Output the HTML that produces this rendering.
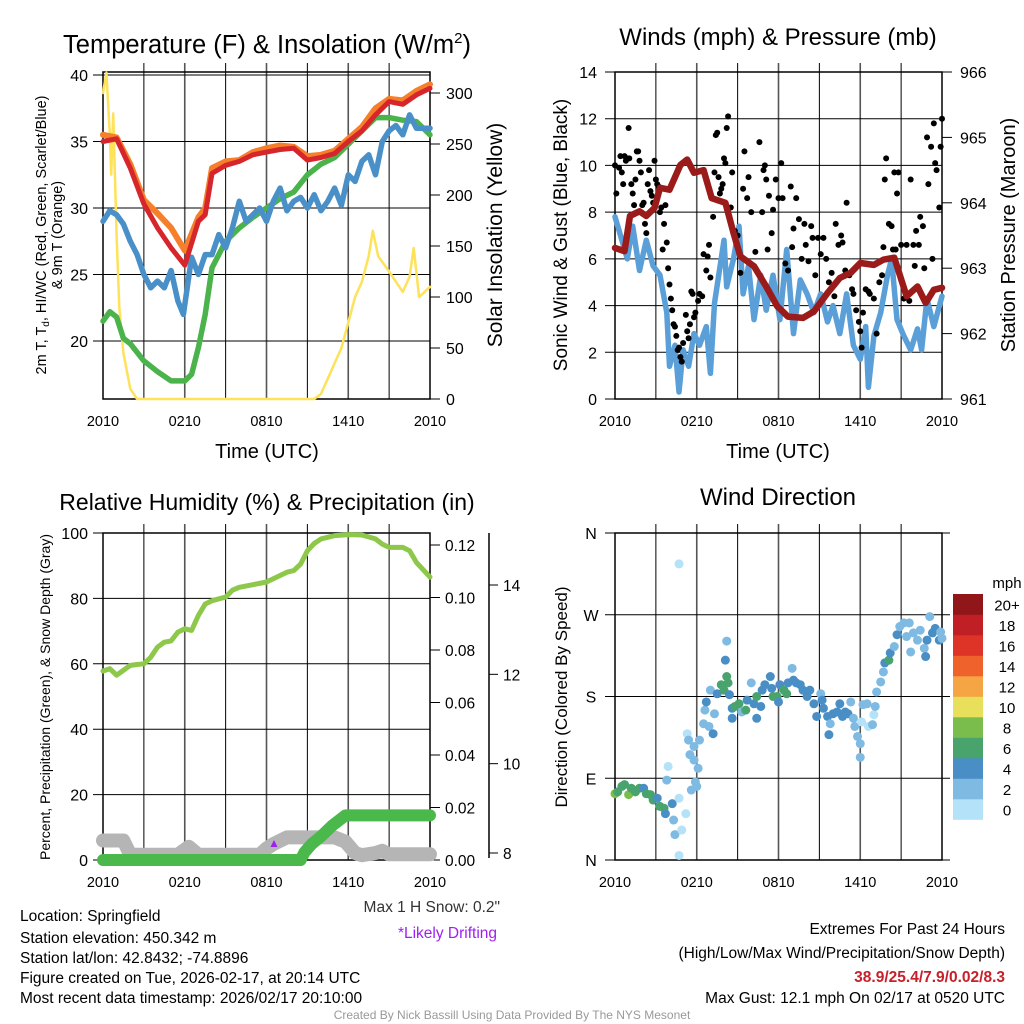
<!DOCTYPE html>
<html><head><meta charset="utf-8"><style>
html,body{margin:0;padding:0;background:#fff;}
svg{display:block;font-family:"Liberation Sans",sans-serif;}
</style></head><body>
<svg id="c" width="1024" height="1024" viewBox="0 0 1024 1024" xmlns="http://www.w3.org/2000/svg">
<rect width="1024" height="1024" fill="#fff"/>
<g id="g1"></g>
<g id="g2"></g>
<g id="g3"></g>
<g id="g4"></g>
<text x="267" y="53" font-size="25.5" text-anchor="middle">Temperature (F) &amp; Insolation (W/m<tspan font-size="15" dy="-10">2</tspan><tspan dy="10">)</tspan></text>
<text x="778" y="45" font-size="24" text-anchor="middle">Winds (mph) &amp; Pressure (mb)</text>
<text x="267" y="510" font-size="23" text-anchor="middle">Relative Humidity (%) &amp; Precipitation (in)</text>
<text x="778" y="505" font-size="24" text-anchor="middle">Wind Direction</text>
<text x="267" y="458" font-size="20" text-anchor="middle">Time (UTC)</text>
<text x="778" y="458" font-size="20" text-anchor="middle">Time (UTC)</text>
<text transform="translate(46,235) rotate(-90)" font-size="14.5" text-anchor="middle">2m T, T<tspan font-size="10" dy="3">d</tspan><tspan dy="-3">, HI/WC (Red, Green, Scarlet/Blue)</tspan></text>
<text transform="translate(62,235) rotate(-90)" font-size="14.5" text-anchor="middle">&amp; 9m T (Orange)</text>
<text transform="translate(502,235) rotate(-90)" font-size="21" text-anchor="middle">Solar Insolation (Yellow)</text>
<text transform="translate(567,235) rotate(-90)" font-size="19" text-anchor="middle">Sonic Wind &amp; Gust (Blue, Black)</text>
<text transform="translate(1015,235) rotate(-90)" font-size="20" text-anchor="middle">Station Pressure (Maroon)</text>
<text transform="translate(50,697) rotate(-90)" font-size="14" text-anchor="middle">Percent, Precipitation (Green), &amp; Snow Depth (Gray)</text>
<text transform="translate(567,697) rotate(-90)" font-size="17" text-anchor="middle">Direction (Colored By Speed)</text>
<text x="500" y="912" font-size="15.5" fill="#333" text-anchor="end">Max 1 H Snow: 0.2"</text>
<text x="497" y="938" font-size="15.5" fill="#a020f0" text-anchor="end">*Likely Drifting</text>
<g font-size="15.5">
<text x="20" y="921">Location: Springfield</text>
<text x="20" y="943">Station elevation: 450.342 m</text>
<text x="20" y="963">Station lat/lon: 42.8432; -74.8896</text>
<text x="20" y="983">Figure created on Tue, 2026-02-17, at 20:14 UTC</text>
<text x="20" y="1003">Most recent data timestamp: 2026/02/17 20:10:00</text>
</g>
<g font-size="15.5" text-anchor="end">
<text x="1005" y="934">Extremes For Past 24 Hours</text>
<text x="1005" y="958">(High/Low/Max Wind/Precipitation/Snow Depth)</text>
<text x="1005" y="982" fill="#c8202a" font-weight="bold">38.9/25.4/7.9/0.02/8.3</text>
<text x="1005" y="1003">Max Gust: 12.1 mph On 02/17 at 0520 UTC</text>
</g>
<text x="512" y="1019" font-size="12" fill="#999" text-anchor="middle">Created By Nick Bassill Using Data Provided By The NYS Mesonet</text>
</svg>
<script>
// ---------- data ----------
const xTickLabels=["2010","0210","0810","1410","2010"];
const tHours=[0,1,2,3,4,5,6,7,7.5,8,9,10,11,12,13,14,15,16,17,18,19,20,21,22,23,24];
const tempRed=[35,35.2,33,30.3,28.5,27,25.7,29,29.5,32.6,33.2,33.5,34,34.2,34.4,34.5,33.6,33.8,34.1,35,35.8,37,38,37.8,38.5,39];
const temp9m=[35.5,35.3,33.3,30.6,29.6,28.5,26.8,29.3,30,33,33.5,33.6,34.2,34.5,34.7,34.6,33.9,34,34.3,35.2,36.1,37.5,38.2,38.1,38.8,39.3];
const dHours=[0,0.5,1,1.5,2,3,4,5,6,6.5,7,7.5,8,9,10,11,12,13,14,15,16,17,18,19,20,21,22,23,24];
const dewpoint=[21.5,22.2,21.8,20.2,19.8,18.5,17.7,17,17,17.5,19.5,22,25.5,27.5,28.5,29.3,30,30.7,31.2,32.5,33.3,33.8,34.8,35.8,36.8,36.8,36.6,36.5,35.5];
const hiHours=[0,0.5,1,1.5,2,2.5,3,3.5,4,4.5,5,5.5,5.9,6.5,7,7.5,8,8.5,9,9.5,10,10.5,11,11.5,12,12.5,13,13.5,14,14.5,15,15.5,16,16.5,17,17.5,18,18.5,19,19.5,20,20.5,21,21.5,22,22.5,23,23.5,24];
const heatIndex=[29,29.8,29.5,28.8,27.5,26.5,25,24,24.5,24,25.3,23,22,26.3,25,26.5,26.5,28,27,28.5,30.5,29,29.5,30,29,30.5,31.5,29.8,30.5,30.8,30,31,29.8,30.5,31.5,30.2,32.5,32,33.5,34,32.5,35,35.8,36.2,35.5,37,36,36,36];
const solHours=[0,0.25,0.5,0.6,0.75,1,1.2,1.5,2,2.5,15.5,16,16.5,17,17.5,18,18.5,19,19.5,19.8,20.2,21,21.5,22,22.5,22.8,23.2,24];
const solar=[300,320,260,220,280,160,90,45,10,0,0,5,20,35,50,75,100,115,140,165,140,125,115,105,120,148,100,110];
const tempTicks=[20,25,30,35,40];
const solarTicks=[0,50,100,150,200,250,300];

const presHours=[0,0.7,1.1,1.8,2.3,2.9,3.3,4.0,4.8,5.3,5.8,6.5,7.1,8.1,8.7,9.2,10.2,11.1,11.9,12.7,13.8,14.6,15.6,16.5,17.3,18,19,19.7,20.5,21.4,22.2,22.8,23.4,24];
const pressure=[963.31,963.26,963.8,963.87,963.8,963.92,964.23,964.2,964.58,964.66,964.46,964.5,964.07,964.0,963.54,963.18,963.03,962.72,962.42,962.26,962.24,962.34,962.62,962.85,962.93,963.08,963.05,963.13,963.16,962.57,962.72,962.47,962.67,962.7];
const windHours=[0,0.4,0.9,1.3,1.8,2.3,2.8,3.3,3.8,4.0,4.4,4.7,5.0,5.4,5.8,6.2,6.7,7.0,7.3,8.0,8.2,8.7,9.1,9.4,9.8,10.2,10.7,11.1,11.6,12.1,12.6,13.1,13.6,14.1,14.6,15.1,15.6,16.0,16.5,17.0,17.5,18.0,18.4,18.6,19.0,19.5,20.0,20.3,20.7,21.2,21.7,22.2,22.5,22.9,23.4,24];
const windSpeed=[7.8,7.0,6.0,7.4,5.5,6.8,5.7,5.3,3.7,1.4,2.3,0.3,2.1,1.4,2.8,2.3,3.1,1.1,4.1,6.8,4.8,6.0,7.4,4.5,5.7,3.4,5.3,3.8,5.3,3.4,6.4,2.8,5.1,4.5,3.7,4.5,3.3,4.0,2.8,4.5,2.3,1.7,3.1,0.5,2.7,3.7,5.3,6.0,3.4,2.7,2.1,3.0,2.1,4.3,3.1,4.4];
const gustHours=[0,0.1,0.3,0.4,0.5,0.6,0.7,0.8,0.9,1.0,1.05,1.2,1.3,1.4,1.5,1.6,1.7,1.8,1.9,2.0,2.1,2.2,2.3,2.4,2.5,2.6,2.7,2.8,2.9,3.0,3.1,3.2,3.3,3.4,3.5,3.6,3.7,3.8,3.9,4.0,4.1,4.2,4.3,4.4,4.5,4.6,4.7,4.8,4.9,5.0,5.2,5.3,5.4,5.5,5.6,5.7,5.8,5.9,6.1,6.2,6.4,6.5,6.7,6.8,6.9,7.0,7.2,7.3,7.4,7.5,7.6,7.7,7.8,7.9,8.0,8.1,8.2,8.3,8.4,8.5,8.6,8.8,9.0,9.1,9.2,9.4,9.5,9.7,9.8,10.0,10.3,10.6,10.8,10.9,11.0,11.1,11.2,11.3,11.5,11.6,11.8,12.0,12.2,12.3,12.5,12.7,12.9,13.0,13.1,13.3,13.5,13.7,13.9,14.0,14.2,14.4,14.5,14.7,14.9,15.1,15.3,15.5,15.7,15.9,16.1,16.2,16.4,16.6,16.7,16.9,17.0,17.2,17.4,17.5,17.7,17.9,18.0,18.1,18.2,18.4,18.6,18.7,19.0,19.2,19.4,19.6,19.7,19.8,19.9,20.1,20.3,20.4,20.5,20.6,20.7,20.8,21.0,21.2,21.4,21.6,21.7,21.9,22.0,22.1,22.3,22.4,22.6,22.7,22.9,23.0,23.2,23.3,23.4,23.5,23.6,23.8,23.9,24.0];
const gustSpeed=[10.0,8.8,9.9,10.4,9.7,9.2,10.4,10.2,10.3,11.6,10.3,9.2,8.8,8.3,9.4,10.6,10.6,10.2,9.7,8.3,8.4,7.5,7.1,9.2,9.8,8.9,8.7,8.4,10.2,9.4,9.2,9.1,8.0,8.2,6.4,7.5,8.3,6.7,5.6,4.9,4.3,3.8,3.2,3.1,2.7,2.1,2.2,1.8,1.6,2.4,3.6,2.9,2.6,3.2,4.6,4.5,3.5,3.7,4.2,4.5,4.4,6.2,5.5,6.1,6.6,5.2,7.8,9.7,11.3,11.4,9.5,8.8,9.0,9.2,10.3,10.1,11.6,12.1,7.8,8.2,9.7,7.2,7.0,6.3,5.4,9.0,10.6,8.6,9.5,8.0,6.3,11.0,8.0,9.8,10.0,9.4,6.4,8.7,7.1,8.1,9.4,8.6,10.1,8.6,5.8,5.5,9.1,6.5,7.3,8.6,7.7,6.0,7.5,6.6,5.9,7.4,6.9,5.3,6.9,6.2,6.9,6.0,5.0,5.4,4.4,7.5,6.6,7.0,6.7,5.5,8.4,5.3,4.7,4.5,3.8,3.3,2.9,2.2,3.7,4.7,4.6,4.5,4.3,2.8,5.0,5.3,6.5,9.4,10.3,7.5,7.4,6.4,9.7,6.4,8.8,9.7,6.6,4.3,6.6,4.2,9.4,6.6,5.7,7.2,6.6,7.8,7.4,5.6,11.2,9.2,10.8,6.0,11.8,10.1,9.8,8.2,10.8,12.0];
const windTicks=[0,2,4,6,8,10,12,14];
const presTicks=[961,962,963,964,965,966];

const rhHours=[0,0.5,1,1.5,2,2.5,3,3.5,4,4.5,5,5.5,6,6.5,7,7.5,8,9,9.5,10,11,12,13,13.5,14,14.5,15,15.5,16,17,18,19,20,20.5,21,22,22.5,23,24];
const humidity=[57.8,58.5,56.5,58,59.5,59.8,60,62,65.1,66.6,67,69.7,70.7,70.2,74.8,78.3,79.3,80.4,82.5,83.4,84.2,85,87,88,88.5,90.5,94.6,96.8,98.2,99.2,99.5,99.4,98.2,96.6,95.6,95.6,94.6,91,86.5];
const prHours=[0,14.5,14.8,15.3,16,16.8,17.8,24];
const precip=[0,0,0.003,0.006,0.009,0.013,0.017,0.017];
const snHours=[0,1.5,2,5.5,6.3,7,11.5,12,12.5,13.5,17,17.8,18.5,19,20,20.5,21,24];
const snowDepth=[8.28,8.28,7.96,7.96,8.14,7.96,7.96,8.1,8.2,8.35,8.35,8.25,8.0,7.95,8.0,8.05,7.97,7.97];
const driftHours=[12.55];
const driftDepth=[8.18];
const rhTicks=[0,20,40,60,80,100];
const prTicks=[0,0.02,0.04,0.06,0.08,0.10,0.12];
const prTickLabels=["0.00","0.02","0.04","0.06","0.08","0.10","0.12"];
const snTicks=[8,10,12,14];

const dirHours=[0,0.2,0.5,0.7,1.0,1.2,1.5,1.8,2.1,2.3,2.6,2.8,3.1,3.3,3.6,3.7,3.9,3.8,4.2,4.3,4.4,4.7,4.9,4.7,5.2,5.3,5.4,5.5,5.8,5.8,5.9,5.6,6.0,6.1,6.2,6.5,6.6,6.7,7.0,6.9,7.2,7.3,7.5,7.8,8.0,8.1,8.2,8.2,8.3,8.4,8.6,8.6,8.8,9.1,9.3,9.6,9.7,10.0,10.2,10.4,10.7,10.4,10.8,11.0,11.4,11.5,11.6,11.9,12.0,12.1,12.4,12.6,12.7,13.0,13.1,13.3,13.6,13.8,14.1,14.3,14.6,14.8,15.1,15.2,15.3,15.6,15.7,15.8,16.0,16.3,16.5,16.7,16.9,17.1,17.3,17.5,17.6,17.8,18.0,18.0,18.1,18.2,18.5,18.6,18.9,19.0,19.1,19.2,19.5,19.7,19.8,20.1,20.2,20.5,20.7,20.9,21.2,21.4,21.7,21.9,22.2,22.4,22.7,22.8,22.9,23.1,23.3,23.5,23.8,24.0,23.9,21.6,4.7];
const dirDeg=[73,75,81,83,72,79,75,79,79,73,72,66,68,59,57,51,103,88,62,44,28,5,33,68,51,139,132,116,110,125,86,77,81,101,132,150,165,174,187,147,139,161,183,193,187,220,241,202,195,182,167,156,169,172,163,165,176,195,172,156,169,180,187,193,202,189,180,180,174,193,187,183,195,211,198,195,193,187,180,187,172,158,183,176,167,158,138,150,161,163,172,158,163,161,174,156,147,136,128,113,152,171,172,147,149,160,169,185,196,207,217,220,228,235,248,257,261,246,229,250,242,253,233,224,242,268,250,255,242,244,251,261,326];
const dirSpeed=[8,6,6,6,8,6,6,6,4,6,6,6,4,6,6,4,0,2,4,2,2,0,0,0,0,0,2,2,2,2,2,2,2,2,2,2,2,4,2,2,4,2,4,6,6,4,2,6,6,4,4,4,6,6,2,6,4,2,4,4,4,6,4,4,4,4,6,6,4,4,6,6,4,2,4,4,4,4,4,4,4,4,2,4,4,4,4,2,4,4,4,4,4,4,2,2,2,2,2,2,0,2,2,0,2,0,2,2,2,2,4,6,4,2,4,2,2,2,2,2,2,2,2,4,4,2,4,4,4,2,2,2,0];
const dirTicks=[0,90,180,270,360];
const dirTickLabels=["N","E","S","W","N"];
const speedBins=[0,2,4,6,8,10,12,14,16,18,20];
const speedBinLabels=["0","2","4","6","8","10","12","14","16","18","20+"];
const speedColors=["#b4e2f8","#7fbae3","#4a8ec6","#49a36c","#7bbd4c","#e8df5a","#f6a544","#f0622c","#dd3427","#c01f26","#911619"];

// ---------- helpers ----------
const NS="http://www.w3.org/2000/svg";
function mk(parent,tag,attrs){const e=document.createElementNS(NS,tag);for(const k in attrs)e.setAttribute(k,attrs[k]);parent.appendChild(e);return e;}
function xScale(x0){return h=>x0+h*327/24;}
function lin(d0,d1,p0,p1){return v=>p0+(v-d0)*(p1-p0)/(d1-d0);}
function linePath(xs,ys,fx,fy){return xs.map((h,i)=>(i?"L":"M")+fx(h).toFixed(1)+","+fy(ys[i]).toFixed(1)).join("");}

function frame(g,x0,y0,x1,y1){
  for(let k=1;k<8;k++){const x=x0+k*(x1-x0)/8;
    const l=mk(g,"line",{x1:x,y1:y0-9,x2:x,y2:y1,stroke:k%2?"#000":"#555","stroke-width":k%2?1:1.6});
    
    }
  const r=mk(g,"rect",{x:x0,y:y0,width:x1-x0,height:y1-y0,fill:"none",stroke:"#000","stroke-width":1.5});
  
  
  xTickLabels.forEach((t,i)=>{const tx=mk(g,"text",{x:x0+i*(x1-x0)/4,y:y1+27,"font-size":14.5,"text-anchor":"middle"});tx.textContent=t;
    
    });
}
function hgrid(g,ticks,fy,x0,x1,labels,side,lx,fs){
  ticks.forEach((v,i)=>{const y=fy(v);
    if(side==="L"){const l=mk(g,"line",{x1:x0-10,y1:y,x2:x1,y2:y,stroke:"#000","stroke-width":1});
      
      }
    else{const l=mk(g,"line",{x1:x1,y1:y,x2:x1+10,y2:y,stroke:"#000","stroke-width":1});
      
      }
    const t=mk(g,"text",{x:lx,y:y+6,"font-size":fs||16,"text-anchor":side==="L"?"end":"start"});t.textContent=labels?labels[i]:String(v);
    
    });
}
function path(g,d,color,w,name,cap){const p=mk(g,"path",{d:d,fill:"none",stroke:color,"stroke-width":w,"stroke-linejoin":"round","stroke-linecap":cap||"round"});
  
  return p;}

// ---------- panel 1 ----------
(function(){const g=document.getElementById("g1");
  const fx=xScale(103), fy=lin(20,40,341,75), fs=lin(0,300,399,93);
  frame(g,103,72,430,399);
  mk(g,"line",{x1:103,y1:75,x2:430,y2:75,stroke:"#000","stroke-width":1});
  hgrid(g,tempTicks,fy,103,430,null,"L",88);
  hgrid(g,solarTicks,fs,103,430,null,"R",446);
  path(g,linePath(solHours,solar,fx,fs),"#fde25a",2.5,"solar-line");
  path(g,linePath(dHours,dewpoint,fx,fy),"#4bb34b",5.5,"dewpoint-line");
  path(g,linePath(hiHours,heatIndex,fx,fy),"#4a90c8",5.5,"heat-index-line");
  path(g,linePath(tHours,temp9m,fx,fy),"#f57f2a",6,"temp-9m-line");
  path(g,linePath(tHours,tempRed,fx,fy),"#d7262b",5,"temp-2m-line");
})();
// ---------- panel 2 ----------
(function(){const g=document.getElementById("g2");
  const fx=xScale(615), fy=lin(0,14,399,72), fp=lin(961,966,399,72);
  frame(g,615,72,942,399);
  hgrid(g,windTicks,fy,615,942,null,"L",597);
  hgrid(g,presTicks,fp,615,942,null,"R",960);
  path(g,linePath(windHours,windSpeed,fx,fy),"#5a9fd8",5.5,"wind-speed-line");
  gustHours.forEach((h,i)=>{const c=mk(g,"circle",{cx:fx(h),cy:fy(gustSpeed[i]),r:3,fill:"#000"});
    
    });
  path(g,linePath(presHours,pressure,fx,fp),"#9b1a1a",6.5,"pressure-line");
})();
// ---------- panel 3 ----------
(function(){const g=document.getElementById("g3");
  const fx=xScale(103), fy=lin(0,100,860,533), fp=lin(0,0.12,860,545), fsn=lin(8,14,853,585);
  frame(g,103,533,430,860);
  hgrid(g,rhTicks,fy,103,430,null,"L",88);
  hgrid(g,prTicks,fp,103,430,prTickLabels,"R",445,15.5);
  const ax=mk(g,"line",{x1:489,y1:533,x2:489,y2:858,stroke:"#000","stroke-width":1.5});
  
  
  snTicks.forEach(v=>{const y=fsn(v);mk(g,"line",{x1:489,y1:y,x2:498,y2:y,stroke:"#000"});
    const t=mk(g,"text",{x:503,y:y+6,"font-size":15.5});t.textContent=String(v);
    
    });
  path(g,linePath(snHours,snowDepth,fx,fsn),"#b5b5b5",14,"snow-depth-line");
  path(g,linePath(prHours,precip,fx,fp),"#4ab84a",12,"precip-line");
  path(g,linePath(rhHours,humidity,fx,fy),"#8dc84a",5,"humidity-line");
  driftHours.forEach((h,i)=>{const x=fx(h),y=fsn(driftDepth[i]);
    const p=mk(g,"path",{d:`M${x},${y-5}L${x+3.5},${y+2}L${x-3.5},${y+2}Z`,fill:"#a020f0"});
    
    });
})();
// ---------- panel 4 ----------
(function(){const g=document.getElementById("g4");
  const fx=xScale(615), fy=lin(0,360,860,533);
  frame(g,615,533,942,860);
  dirTicks.forEach((v,i)=>{const y=fy(v);mk(g,"line",{x1:605,y1:y,x2:950,y2:y,stroke:"#000"});
    const t=mk(g,"text",{x:591,y:y+6,"font-size":16,"text-anchor":"middle"});t.textContent=dirTickLabels[i];
    
    });
  dirHours.forEach((h,i)=>{const b=Math.min(10,Math.floor(dirSpeed[i]/2));
    const c=mk(g,"circle",{cx:fx(h),cy:fy(dirDeg[i]),r:4.5,fill:speedColors[b]});
    
    });
  const lt=mk(g,"text",{x:1007,y:588,"font-size":15,"text-anchor":"middle"});lt.textContent="mph";
  
  
  const top=594,bh=20.5;
  speedBins.forEach((v,i)=>{const k=speedBins.length-1-i;const y=top+k*bh;
    const r=mk(g,"rect",{x:953,y:y,width:30,height:bh+0.3,fill:speedColors[i]});
    
    
    const t=mk(g,"text",{x:1007,y:y+bh/2+6,"font-size":15,"text-anchor":"middle"});t.textContent=speedBinLabels[i];
    
    });
})();
</script>
</body></html>
